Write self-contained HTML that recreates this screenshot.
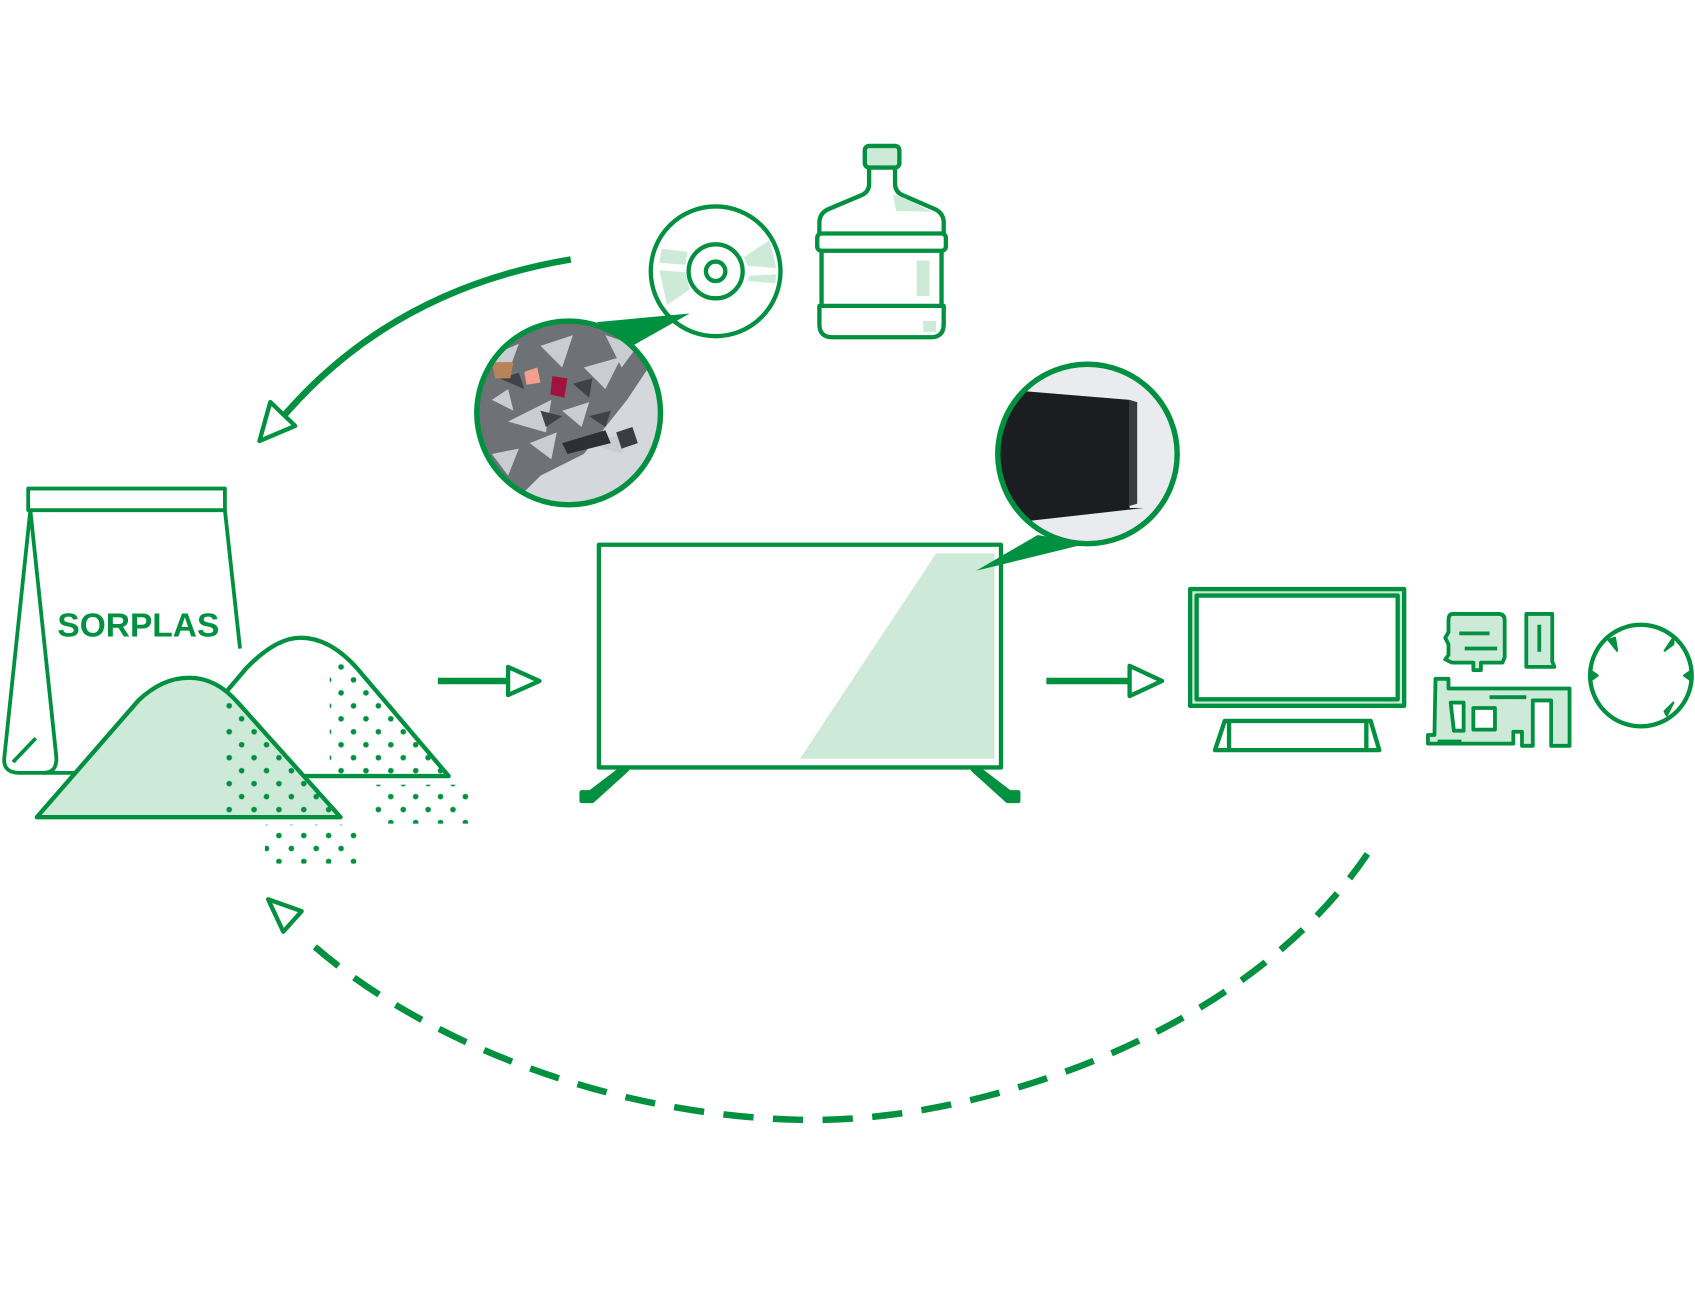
<!DOCTYPE html>
<html><head><meta charset="utf-8"><style>
html,body{margin:0;padding:0;background:#fff;}
svg{display:block}
</style></head><body>
<svg width="1695" height="1296" viewBox="0 0 1568 1199" xmlns="http://www.w3.org/2000/svg">
<defs>
<pattern id="dots" width="23" height="24" patternUnits="userSpaceOnUse">
<circle cx="5" cy="5" r="2.6" fill="#009140"/><circle cx="16.5" cy="17" r="2.6" fill="#009140"/>
</pattern>
<clipPath id="c1"><circle cx="526" cy="382" r="84"/></clipPath>
<clipPath id="c2"><circle cx="1006" cy="420" r="82"/></clipPath>
<radialGradient id="g1" cx="0.3" cy="0.35" r="0.8"><stop offset="0" stop-color="#6f7378"/><stop offset="0.6" stop-color="#9a9ea3"/><stop offset="1" stop-color="#dcdfe3"/></radialGradient>
</defs>
<g fill="none" stroke="#009140" stroke-linejoin="round">
<path d="M528,240 Q360,268 258,390" stroke-width="6"/>
<polygon points="240,408 250,372 273,394" stroke-width="4" fill="#fff"/>
<circle cx="662" cy="251" r="60" stroke-width="4"/>
<path d="M612,230 L636,233 L634,245 L610,243Z M610,250 L634,252 L638,268 L617,282Z M688,238 L712,222 L718,248 L692,246Z M693,255 L718,254 L717,262 L692,260Z" fill="#cde9d8" stroke="none"/>
<circle cx="662" cy="251" r="25" stroke-width="4"/>
<circle cx="662" cy="251" r="9" stroke-width="4"/>
<rect x="800" y="135" width="32" height="20" rx="4" stroke-width="4" fill="#cde9d8"/>
<path d="M804,155 V170 Q804,178 796,181 L765,194 Q758,198 758,206 V216 M828,155 V170 Q828,178 836,181 L866,194 Q873,198 873,206 V216" stroke-width="4"/>
<rect x="756" y="216" width="119" height="16" rx="4" stroke-width="4"/>
<path d="M760,232 V283 M871,232 V283" stroke-width="4"/>
<path d="M758,283 H873 V300 Q873,312 861,312 H770 Q758,312 758,300Z" stroke-width="4"/>
<path d="M826,180 L836,183 L862,196 L829,195Z M848,241 H860 V274 H848Z M854,297 H866 V307 H854Z" fill="#cde9d8" stroke="none"/>
<g clip-path="url(#c1)" stroke="none">
<rect x="440" y="296" width="172" height="172" fill="#d4d7db"/>
<path d="M440,296 H612 L600,340 L580,370 L560,395 L540,420 L500,440 L470,470 H440Z" fill="#6e7277"/>
<path d="M452,330 L480,318 L470,345Z M500,320 L530,310 L520,340Z M470,390 L510,370 L505,400Z M540,340 L575,330 L560,360Z M545,410 L585,400 L575,420Z M455,370 L470,360 L475,380Z M490,410 L515,400 L510,425Z M560,310 L590,320 L575,340Z M520,380 L545,372 L538,395Z M455,420 L480,415 L470,440Z" fill="#c9ccd0"/>
<path d="M462,350 L480,345 L485,360Z M530,355 L548,350 L545,368Z M500,380 L520,385 L505,395Z M545,385 L565,380 L560,395Z" fill="#3f4247"/>
<path d="M455,335 L475,335 L472,350 L458,350Z" fill="#b9835a"/>
<path d="M485,344 L497,340 L500,354 L487,356Z" fill="#f2a08d"/>
<path d="M511,348 L525,350 L522,368 L509,365Z" fill="#a1133f"/>
<path d="M520,410 L560,398 L565,410 L525,420Z" fill="#2c2f33"/>
<path d="M570,400 L585,395 L590,410 L575,415Z" fill="#3a3d42"/>
</g>
<circle cx="526" cy="382" r="85" stroke-width="5"/>
<polygon points="552,298 638,290 585,320" fill="#009140" stroke="none"/>
<polygon points="866,512 920,512 920,702 740,702" fill="#cde9d8" stroke="none"/>
<rect x="554" y="504" width="372" height="206" stroke-width="4"/>
<path d="M575,711 L546,733 L538,733 V741 H548 L580,712 Z M905,711 L934,733 L942,733 V741 H932 L900,712Z" stroke-width="4" fill="#009140"/>
<g clip-path="url(#c2)" stroke="none">
<rect x="922" y="336" width="170" height="170" fill="#e9ebee"/>
<path d="M925,360 L1045,370 L1045,470 L1058,470 L925,485Z" fill="#1c1d20"/>
<path d="M1045,370 L1052,372 V466 L1045,468Z" fill="#3a3b3f"/>
</g>
<circle cx="1006" cy="420" r="83" stroke-width="5"/>
<polygon points="903,528 960,495 1005,503" fill="#009140" stroke="none"/>
<path d="M405,630 H470" stroke-width="6"/>
<polygon points="470,617 499,630 470,643" stroke-width="4" fill="#fff"/>
<path d="M968,630 H1045" stroke-width="6"/>
<polygon points="1045,616 1075,630 1045,644" stroke-width="4" fill="#fff"/>
<rect x="1101" y="545" width="198" height="108" stroke-width="4" fill="#cde9d8"/>
<rect x="1107" y="551" width="186" height="96" stroke-width="4" fill="#fff"/>
<path d="M1133,667 H1268 L1276,694 H1124Z M1137,667 V694 M1264,667 V694" stroke-width="4"/>
<path d="M1343,613 H1363 V620 H1370 V613 H1390 L1392,608 V574 Q1392,568 1386,568 H1344 Q1340,568 1340,574 V585 L1337,590 L1340,596 V606 L1337,610Z" stroke-width="3.5" fill="#cde9d8"/>
<path d="M1350,586 H1378 M1355,600 H1385" stroke-width="3.5"/>
<path d="M1412,568 H1436 V612 L1438,617 H1412Z" stroke-width="3.5" fill="#cde9d8"/>
<path d="M1424,578 V603" stroke-width="3.5"/>
<path d="M1327,680 H1321 V688 H1400 V677 H1408 V690 H1418 V648 H1435 V690 H1452 V637 H1340 V628 H1328Z" stroke-width="3.5" fill="#cde9d8"/>
<rect x="1363" y="655" width="20" height="20" stroke-width="3.5" fill="#fff"/>
<path d="M1342,650 H1354 V676 H1345Z" stroke-width="3.5" fill="#fff"/>
<path d="M1378,645 H1412 M1330,686 H1352" stroke-width="3.5"/>
<circle cx="1518" cy="625" r="47" stroke-width="4"/>
<path d="M1488,592 L1496,602 L1494,590Z M1548,590 L1540,602 L1548,596Z M1471,620 L1478,625 L1471,630Z M1565,620 L1558,625 L1565,630Z M1540,658 L1548,650 L1542,662Z" fill="#009140" stroke-width="2"/>
<path d="M1265,790 C1150,960 900,1040 740,1036 C560,1032 380,960 278,864" stroke-width="6" stroke-dasharray="28 18"/>
<polygon points="248,832 279,843 262,862" stroke-width="4" fill="#fff"/>
<path d="M26,452 H208 V472 H26Z" stroke-width="3.5" fill="#fff"/>
<path d="M28,472 L4,700 Q2,715 18,715 H226 M208,472 L222,600" stroke-width="3.5"/>
<path d="M28,472 L52,700 Q53,715 40,715" stroke-width="3.5"/>
<path d="M12,705 L33,683" stroke-width="3.5"/>
</g>
<text x="53" y="589" font-family="Liberation Sans, sans-serif" font-weight="bold" font-size="31" fill="#009140">SORPLAS</text>
<g stroke="#009140" stroke-linejoin="round">
<path d="M205,645 L228,618 Q255,590 278,590 Q305,590 330,618 L415,718 H270Z" fill="#fff" stroke-width="4"/>
<path d="M305,612 L330,618 L415,718 H305Z" fill="url(#dots)" stroke="none"/>
<path d="M34,756 L128,648 Q150,627 175,627 Q200,627 220,650 L315,756Z" fill="#cde9d8" stroke-width="4"/>
<path d="M204,640 L220,650 L312,752 H204Z" fill="url(#dots)" stroke="none"/>
<rect x="345" y="726" width="90" height="36" fill="url(#dots)" stroke="none"/>
<rect x="245" y="763" width="90" height="36" fill="url(#dots)" stroke="none"/>
</g>
</svg>
</body></html>
